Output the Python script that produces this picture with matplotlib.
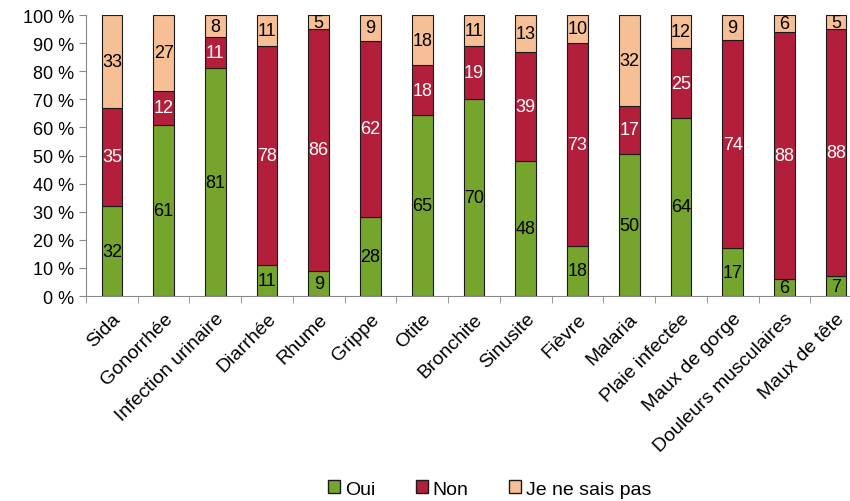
import numpy as np
import matplotlib.pyplot as plt
from matplotlib.patches import Patch

plt.rcParams['font.family'] = ['Liberation Sans', 'DejaVu Sans']

categories = ['Sida', 'Gonorrhée', 'Infection urinaire', 'Diarrhée', 'Rhume', 'Grippe',
              'Otite', 'Bronchite', 'Sinusite', 'Fièvre', 'Malaria', 'Plaie infectée',
              'Maux de gorge', 'Douleurs musculaires', 'Maux de tête']
oui = [32, 61, 81, 11, 9, 28, 65, 70, 48, 18, 50, 64, 17, 6, 7]
non = [35, 12, 11, 78, 86, 62, 18, 19, 39, 73, 17, 25, 74, 88, 88]
nsp = [33, 27, 8, 11, 5, 9, 18, 11, 13, 10, 32, 12, 9, 6, 5]

series = [('Oui', oui, '#76a52d', 'black'),
          ('Non', non, '#b31f3b', 'white'),
          ('Je ne sais pas', nsp, '#f6bf95', 'black')]

fig = plt.figure(figsize=(8.5, 5.02), dpi=100)
ax = fig.add_axes([86 / 850, 1 - 297 / 502, 776 / 850, 281 / 502])

x = np.arange(len(categories))
total = np.array(oui) + np.array(non) + np.array(nsp)
bottom = np.zeros(len(categories))
for name, vals, color, tcol in series:
    h = np.array(vals) / total * 100
    ax.bar(x, h, 0.4, bottom=bottom, color=color, edgecolor='#1a1a1a', linewidth=0.8)
    for xi, b, hi, v in zip(x, bottom, h, vals):
        ax.text(xi, b + hi / 2, str(v), ha='center', va='center', fontsize=13, color=tcol)
    bottom += h

ax.set_xlim(-0.5, len(categories) - 0.5)
ax.set_ylim(0, 100)
ax.set_yticks(range(0, 101, 10))
ax.set_yticklabels([f'{t} %' for t in range(0, 101, 10)], fontsize=13)
ax.set_xticks(x)
ax.set_xticklabels(categories, rotation=45, ha='right', rotation_mode='anchor', fontsize=14)
ax.set_xticks(np.arange(-0.5, len(categories), 1), minor=True)
ax.tick_params(axis='x', which='major', length=0, pad=10)
ax.tick_params(axis='x', which='minor', length=5, color='#888888')
ax.tick_params(axis='y', length=5, color='#888888')
for s in ['top', 'right']:
    ax.spines[s].set_visible(False)
for s in ['left', 'bottom']:
    ax.spines[s].set_color('#888888')

handles = [Patch(facecolor=c, edgecolor='#1a1a1a', label=n) for n, _, c, _ in series]
fig.legend(handles=handles, loc='center', bbox_to_anchor=(0.576, 1 - 490 / 502), ncol=3,
           frameon=False, fontsize=14, handlelength=0.6, handleheight=0.6,
           handletextpad=0.25, columnspacing=2.1)

fig.savefig('out.png', dpi=100)
